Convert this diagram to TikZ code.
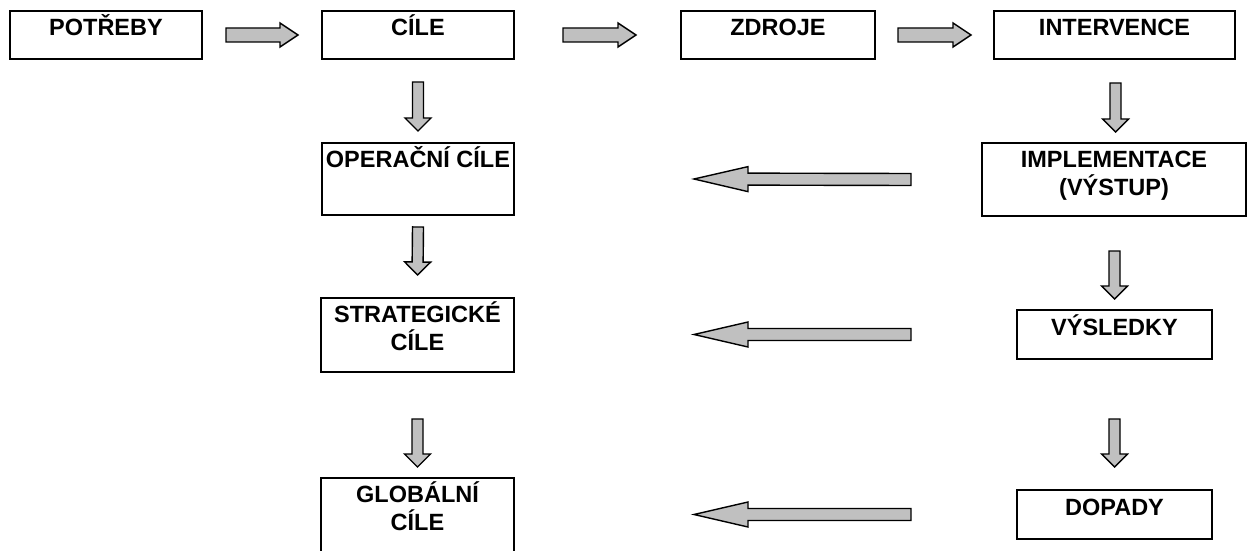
\documentclass[tikz,border=0pt]{standalone}
\usepackage{fontspec}
\setmainfont{Liberation Sans}
\usetikzlibrary{calc}
\definecolor{agray}{RGB}{192,192,192}
\tikzset{
  box/.style={draw=black, line width=1.8pt, rectangle, inner sep=0pt, outer sep=0pt},
  lbl/.style={font=\bfseries\fontsize{23.5}{28}\selectfont, inner sep=0pt, anchor=base},
  blk/.style={draw=black, fill=agray, line width=1.4pt, line join=miter}
}
\newcommand{\blkarrow}[5]{%
  \draw[blk] let \p1=(#1), \p2=(#2), \n1={atan2(\y2-\y1,\x2-\x1)}, \n2={veclen(\x2-\x1,\y2-\y1)}, \n3={\n2-#5} in
   ($(\p1)+(\n1+90:#3)$) -- ($(\p1)+(\n1:\n3)+(\n1+90:#3)$) -- ($(\p1)+(\n1:\n3)+(\n1+90:#4)$) -- (\p2)
   -- ($(\p1)+(\n1:\n3)+(\n1-90:#4)$) -- ($(\p1)+(\n1:\n3)+(\n1-90:#3)$) -- ($(\p1)+(\n1-90:#3)$) -- cycle;
}
\begin{document}
\begin{tikzpicture}[x=1pt, y=1pt]
\useasboundingbox (0,0) rectangle (1247,550);
\begin{scope}
\clip (0,0) rectangle (1247,550);
% boxes
\node[box, minimum width=192pt, minimum height=48pt] (p)  at (106,515) {};
\node[box, minimum width=192pt, minimum height=48pt] (c)  at (418,515) {};
\node[box, minimum width=194pt, minimum height=48pt] (z)  at (778,515) {};
\node[box, minimum width=241pt, minimum height=48pt] (i)  at (1114.5,515) {};
\node[box, minimum width=192pt, minimum height=72pt] (o)  at (418,371) {};
\node[box, minimum width=264pt, minimum height=73pt] (im) at (1114,370.5) {};
\node[box, minimum width=193pt, minimum height=74pt] (s)  at (417.5,215) {};
\node[box, minimum width=195pt, minimum height=49pt] (v)  at (1114.5,215.5) {};
\node[box, minimum width=193pt, minimum height=84pt] (g)  at (417.5,30) {};
\node[box, minimum width=195pt, minimum height=49pt] (d)  at (1114.5,35.5) {};
% labels
\node[lbl] (tp)  at ($(p.north)+(0,-25)$) {POTŘEBY};
\node[lbl] (tc)  at ($(c.north)+(0,-25)$) {CÍLE};
\node[lbl] (tz)  at ($(z.north)+(0,-25)$) {ZDROJE};
\node[lbl] (ti)  at ($(i.north)+(0,-25)$) {INTERVENCE};
\node[lbl] (to)  at ($(o.north)+(0,-25)$) {OPERAČNÍ CÍLE};
\node[lbl] (tim) at ($(im.north)+(0,-24)$) {IMPLEMENTACE};
\node[lbl] (tim2) at ($(im.north)+(0,-52)$) {(VÝSTUP)};
\node[lbl] (ts)  at ($(s.north)+(0,-24)$) {STRATEGICKÉ};
\node[lbl] (ts2) at ($(s.north)+(0,-52)$) {CÍLE};
\node[lbl] (tv)  at ($(v.north)+(0,-25)$) {VÝSLEDKY};
\node[lbl] (tg)  at ($(g.north)+(0,-24)$) {GLOBÁLNÍ};
\node[lbl] (tg2) at ($(g.north)+(0,-52)$) {CÍLE};
\node[lbl] (td)  at ($(d.north)+(0,-25)$) {DOPADY};
% arrow end points
\coordinate (a1s) at ($(p.east)+(24,0)$);
\coordinate (a1e) at ($(c.west)+(-24,0)$);
\coordinate (a2s) at ($(c.east)+(49,0)$);
\coordinate (a2e) at ($(z.west)+(-45,0)$);
\coordinate (a3s) at ($(z.east)+(23,0)$);
\coordinate (a3e) at ($(i.west)+(-23,0)$);
\coordinate (d1s) at ($(c.south)+(0,-23)$);
\coordinate (d1e) at ($(o.north)+(0,12)$);
\coordinate (d2s) at ($(o.south)+(0,-12)$);
\coordinate (d2e) at ($(s.north)+(0,23)$);
\coordinate (d3s) at ($(s.south)+(0,-47)$);
\coordinate (d3e) at ($(g.north)+(0,11)$);
\coordinate (d4s) at ($(i.south)+(1,-24)$);
\coordinate (d4e) at ($(im.north)+(1.5,11)$);
\coordinate (d5s) at ($(im.south)+(0.5,-35)$);
\coordinate (d5e) at ($(v.north)+(0,11)$);
\coordinate (d6s) at ($(v.south)+(0,-60)$);
\coordinate (d6e) at ($(d.north)+(0,23)$);
\coordinate (l1s) at ($(im.west)+(-71,0)$);
\coordinate (l1e) at ($(o.east)+(180,0)$);
\coordinate (l2s) at ($(v.west)+(-106,0)$);
\coordinate (l2e) at ($(s.east |- v.west)+(180,0)$);
\coordinate (l3s) at ($(d.west)+(-106,0)$);
\coordinate (l3e) at ($(g.east |- d.west)+(180,0)$);
% block arrows
\blkarrow{a1s}{a1e}{7}{12}{18}
\blkarrow{a2s}{a2e}{7}{12}{18}
\blkarrow{a3s}{a3e}{7}{12}{18}
\blkarrow{d1s}{d1e}{5.5}{13}{13}
\blkarrow{d2s}{d2e}{5.5}{13}{13}
\blkarrow{d3s}{d3e}{5.5}{13}{13}
\blkarrow{d4s}{d4e}{5.5}{13}{13}
\blkarrow{d5s}{d5e}{5.5}{13}{13}
\blkarrow{d6s}{d6e}{5.5}{13}{13}
\blkarrow{l1s}{l1e}{6}{12.5}{54}
\blkarrow{l2s}{l2e}{6}{12.5}{54}
\blkarrow{l3s}{l3e}{6}{12.5}{54}
\end{scope}
\end{tikzpicture}
\end{document}
